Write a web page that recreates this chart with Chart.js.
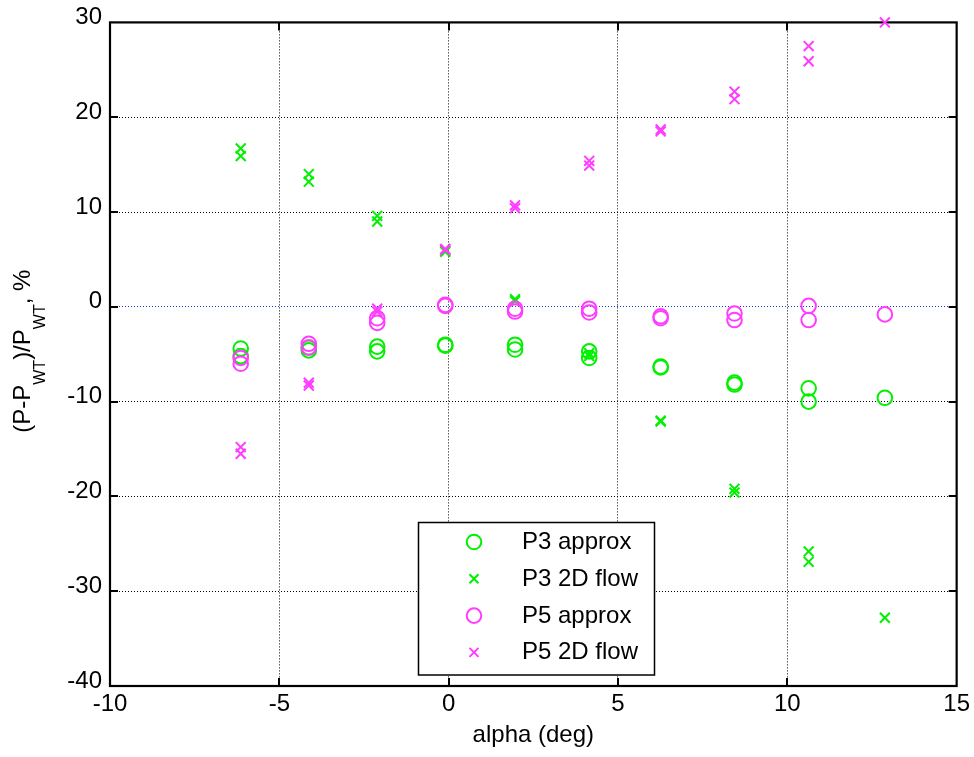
<!DOCTYPE html>
<html>
<head>
<meta charset="utf-8">
<script src="https://cdn.jsdelivr.net/npm/chart.js@4/dist/chart.umd.min.js"></script>
<style>
  html, body { margin: 0; padding: 0; background: #fff; }
  #wrap { width: 974px; height: 757px; position: relative; }
</style>
</head>
<body>
<div id="wrap"><canvas id="c" width="974" height="757"></canvas></div>
<script>
// Angle of attack (deg); two runs per angle, one at the last angle
const alpha = [-6.14, -6.14, -4.13, -4.13, -2.11, -2.11, -0.1, -0.1, 1.96, 1.96,
               4.15, 4.15, 6.26, 6.26, 8.44, 8.44, 10.63, 10.63, 12.88];

// (P - P_WT) / P_WT in percent
const p3Approx = [-4.4, -5.2, -4.3, -4.6, -4.2, -4.7, -4.0, -4.1, -4.0, -4.5,
                  -4.7, -5.4, -6.3, -6.4, -8.0, -8.2, -8.6, -10.0, -9.6];
const p3Flow2D = [16.7, 15.9, 14.0, 13.2, 9.6, 9.0, 5.8, 5.9, 0.8, 0.6,
                  -4.9, -5.2, -12.0, -12.1, -19.2, -19.6, -25.8, -26.9, -32.8];
const p5Approx = [-5.4, -6.0, -3.9, -4.3, -1.2, -1.7, 0.1, 0.2, -0.2, -0.5,
                  -0.2, -0.6, -1.0, -1.2, -0.7, -1.4, 0.1, -1.4, -0.8];
const p5Flow2D = [-14.8, -15.5, -8.0, -8.3, -0.2, -0.5, 6.0, 6.1, 10.7, 10.4,
                  15.4, 14.9, 18.7, 18.5, 22.7, 21.9, 27.5, 25.9, 30.0];

const seriesLabels = ['P3 approx', 'P3 2D flow', 'P5 approx', 'P5 2D flow'];
const xTicks = [-10, -5, 0, 5, 10, 15];
const yTicks = [-40, -30, -20, -10, 0, 10, 20, 30];

const GREEN = '#00f000';
const MAGENTA = '#ff3cff';
const FONT = '"Liberation Sans", Arial, Helvetica, sans-serif';

const pts = vals => vals.map((v, i) => ({ x: alpha[i], y: v }));

function markerDataset(label, vals, color, style, order) {
  const circle = style === 'circle';
  return {
    label,
    data: pts(vals),
    showLine: false,
    pointStyle: style,
    pointRadius: circle ? 7.3 : 7,
    pointHoverRadius: circle ? 7.3 : 7,
    pointBorderWidth: circle ? 2 : 2,
    pointBackgroundColor: 'rgba(0,0,0,0)',
    pointBorderColor: color,
    borderColor: color,
    backgroundColor: 'rgba(0,0,0,0)',
    clip: false,
    order
  };
}

function drawMarker(ctx, style, color, x, y) {
  ctx.save();
  ctx.strokeStyle = color;
  ctx.beginPath();
  if (style === 'circle') {
    ctx.lineWidth = 2;
    ctx.arc(x, y, 7.3, 0, Math.PI * 2);
  } else {
    ctx.lineWidth = 2;
    const d = 4.5;
    ctx.moveTo(x - d, y - d); ctx.lineTo(x + d, y + d);
    ctx.moveTo(x - d, y + d); ctx.lineTo(x + d, y - d);
  }
  ctx.stroke();
  ctx.restore();
}

// Axes box with inward tick marks, drawn under the markers
const boxPlugin = {
  id: 'boxPlugin',
  beforeDatasetsDraw(chart) {
    const { ctx, chartArea: a, scales: { x, y } } = chart;
    ctx.save();
    ctx.strokeStyle = '#000';
    ctx.lineWidth = 2;
    ctx.beginPath();
    xTicks.slice(1, -1).forEach(v => {
      const px = Math.round(x.getPixelForValue(v));
      ctx.moveTo(px, a.bottom); ctx.lineTo(px, a.bottom - 8);
      ctx.moveTo(px, a.top); ctx.lineTo(px, a.top + 8);
    });
    yTicks.slice(1, -1).forEach(v => {
      const py = Math.round(y.getPixelForValue(v));
      ctx.moveTo(a.left, py); ctx.lineTo(a.left + 8, py);
      ctx.moveTo(a.right, py); ctx.lineTo(a.right - 8, py);
    });
    ctx.stroke();
    ctx.lineWidth = 2.2;
    ctx.strokeRect(a.left, a.top, a.right - a.left, a.bottom - a.top);
    ctx.restore();
  }
};

// Axis titles and the legend box
const textPlugin = {
  id: 'textPlugin',
  afterDraw(chart) {
    const { ctx, chartArea: a } = chart;
    ctx.save();
    ctx.fillStyle = '#000';

    // x-axis title
    ctx.font = '24px ' + FONT;
    ctx.textAlign = 'center';
    ctx.textBaseline = 'alphabetic';
    ctx.fillText('alpha (deg)', (a.left + a.right) / 2, 742);

    // y-axis title with subscripts
    const segs = [
      { t: '(P-P', sub: false }, { t: 'WT', sub: true },
      { t: ')/P', sub: false }, { t: 'WT', sub: true },
      { t: ', %', sub: false }
    ];
    const fontOf = s => (s.sub ? '16px ' : '24px ') + FONT;
    let total = 0;
    segs.forEach(s => { ctx.font = fontOf(s); s.w = ctx.measureText(s.t).width; total += s.w; });
    ctx.translate(30, (a.top + a.bottom) / 2 - 3);
    ctx.rotate(-Math.PI / 2);
    ctx.textAlign = 'left';
    let cx = -total / 2;
    segs.forEach(s => {
      ctx.font = fontOf(s);
      ctx.fillText(s.t, cx, s.sub ? 15 : 0);
      cx += s.w;
    });
    ctx.restore();

    // legend
    ctx.save();
    const L = { x: 418.5, y: 522.5, w: 236, h: 152.5 };
    ctx.fillStyle = '#fff';
    ctx.fillRect(L.x, L.y, L.w, L.h);
    ctx.strokeStyle = '#000';
    ctx.lineWidth = 1.5;
    ctx.strokeRect(L.x, L.y, L.w, L.h);
    ctx.font = '24px ' + FONT;
    ctx.fillStyle = '#000';
    ctx.textAlign = 'left';
    ctx.textBaseline = 'alphabetic';
    const ds = chart.data.datasets;
    ds.forEach((d, i) => {
      const cy = 542 + i * 36.8;
      drawMarker(ctx, d.pointStyle, d.pointBorderColor, 474, cy);
      ctx.fillText(d.label, 522, cy + 7);
    });
    ctx.restore();
  }
};

new Chart(document.getElementById('c'), {
  type: 'scatter',
  data: {
    datasets: [
      markerDataset(seriesLabels[0], p3Approx, GREEN, 'circle', 4),
      markerDataset(seriesLabels[1], p3Flow2D, GREEN, 'crossRot', 3),
      markerDataset(seriesLabels[2], p5Approx, MAGENTA, 'circle', 2),
      markerDataset(seriesLabels[3], p5Flow2D, MAGENTA, 'crossRot', 1)
    ]
  },
  options: {
    responsive: false,
    animation: false,
    devicePixelRatio: 1,
    layout: { padding: { left: 0, right: 17, top: 21, bottom: 0 } },
    plugins: {
      legend: { display: false },
      tooltip: { enabled: false },
      title: { display: false }
    },
    scales: {
      x: {
        type: 'linear',
        min: xTicks[0],
        max: xTicks[xTicks.length - 1],
        afterBuildTicks: s => { s.ticks = xTicks.map(v => ({ value: v })); },
        ticks: { color: '#000', font: { family: FONT, size: 24 }, padding: 4, maxRotation: 0 },
        grid: { color: '#000', lineWidth: 1, drawTicks: false },
        border: { display: false, dash: [1, 2] },
        afterFit: s => { s.height = 71; }
      },
      y: {
        type: 'linear',
        min: yTicks[0],
        max: yTicks[yTicks.length - 1],
        afterBuildTicks: s => { s.ticks = yTicks.map(v => ({ value: v })); },
        ticks: { color: '#000', font: { family: FONT, size: 24 }, padding: 8, labelOffset: -5 },
        grid: {
          color: c => (c.tick && c.tick.value === 0 ? '#1f35d8' : '#000'),
          lineWidth: 1,
          drawTicks: false
        },
        border: { display: false, dash: [1, 2] },
        afterFit: s => { s.width = 110; }
      }
    }
  },
  plugins: [boxPlugin, textPlugin]
});
</script>
</body>
</html>
